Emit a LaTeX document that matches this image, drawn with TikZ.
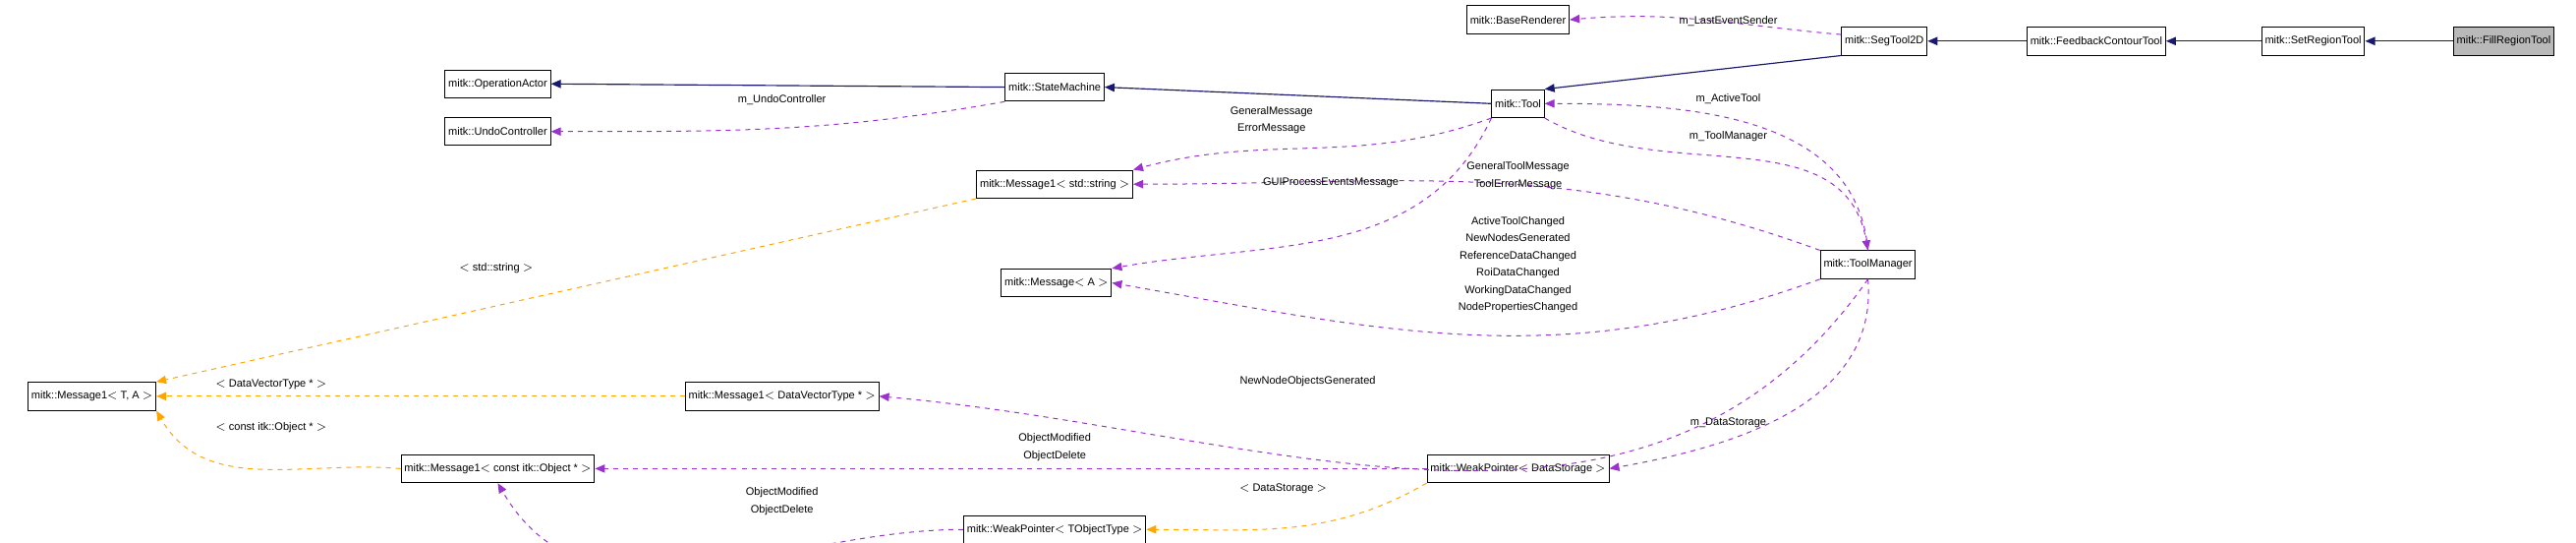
\documentclass[tikz,border=0pt]{standalone}
\usepackage{fontspec}
\setmainfont{Liberation Sans}
\usetikzlibrary{arrows.meta}
\definecolor{navy}{HTML}{191970}
\definecolor{orchid}{HTML}{9A32CD}
\definecolor{orangeedge}{HTML}{FFA500}
\tikzset{
  cls/.style={draw=black, line width=0.6pt, fill=white, minimum height=17pt, inner sep=2pt, font=\fontsize{6.6}{8}\selectfont},
  lbl/.style={font=\fontsize{6.6}{10.5}\selectfont, align=center, inner sep=0pt},
  inherit/.style={navy, line width=0.7pt, -{Triangle[length=6pt,width=5pt]}},
  usage/.style={orchid, dashed, line width=0.6pt, -{Triangle[length=6pt,width=5pt]}},
  templ/.style={orangeedge, dashed, line width=0.6pt, -{Triangle[length=6pt,width=5pt]}}
}
\begin{document}
\begin{tikzpicture}[x=1pt,y=-1pt]
\useasboundingbox (0,0) rectangle (1568,330);
% classes
\node [cls, fill=gray!55] (fill) at (1524,25) {mitk::FillRegionTool};
\node [cls] (setreg) at (1408,25) {mitk::SetRegionTool};
\node [cls] (feedback) at (1276,25) {mitk::FeedbackContourTool};
\node [cls] (seg) at (1147,25) {mitk::SegTool2D};
\node [cls] (base) at (924,12) {mitk::BaseRenderer};
\node [cls] (tool) at (924,63) {mitk::Tool};
\node [cls] (sm) at (642,53) {mitk::StateMachine};
\node [cls] (opactor) at (303,51) {mitk::OperationActor};
\node [cls] (undo) at (303,80) {mitk::UndoController};
\node [cls] (msgstr) at (642,112) {mitk::Message1$<$ std::string $>$};
\node [cls] (msga) at (643,172) {mitk::Message$<$ A $>$};
\node [cls] (toolman) at (1137,161) {mitk::ToolManager};
\node [cls] (msgta) at (56,241) {mitk::Message1$<$ T, A $>$};
\node [cls] (msgdv) at (476,241) {mitk::Message1$<$ DataVectorType * $>$};
\node [cls] (msgobj) at (303,285) {mitk::Message1$<$ const itk::Object * $>$};
\node [cls] (wpds) at (924,285) {mitk::WeakPointer$<$ DataStorage $>$};
\node [cls] (wpto) at (642,322) {mitk::WeakPointer$<$ TObjectType $>$};
% inheritance
\draw [inherit] (fill) -- (setreg);
\draw [inherit] (setreg) -- (feedback);
\draw [inherit] (feedback) -- (seg);
\draw [inherit] (seg.south west) -- (tool.north east);
\draw [inherit] (tool.west) -- (sm.east);
\draw [inherit] (sm.west) -- (opactor.east);
% usage
\draw [usage] (seg.west) ++(0,-4) coordinate (s1) (s1) to[out=175,in=5] (base.east);
\draw [usage] (sm.south west) to[out=190,in=0] (undo.east);
\draw [usage] (tool.south west) to[out=200,in=15] (msgstr.north east);
\draw [usage] (tool.south west) to[out=245,in=10] (msga.north east);
\draw [usage] (toolman.north west) to[out=160,in=0] (msgstr.east);
\draw [usage] (toolman.south west) to[out=200,in=-10] (msga.east);
\draw [usage] (toolman.south) to[out=235,in=-5] (msgdv.east);
\draw [usage] (tool.south east) to[out=-30,in=100] (toolman.north);
\draw [usage] (toolman.north) to[out=95,in=0] (tool.east);
\draw [usage] (toolman.south) to[out=-85,in=10] (wpds.east);
\draw [usage] (wpds.west) -- (msgobj.east);
\draw [usage] (wpto.west) to[out=180,in=-60] (msgobj.south);
% templates
\draw [templ] (msgstr.south west) -- (msgta.north east);
\draw [templ] (msgdv.west) -- (msgta.east);
\draw [templ] (msgobj.west) to[out=175,in=-60] (msgta.south east);
\draw [templ] (wpds.south west) to[out=-150,in=0] (wpto.east);
% labels
\node [lbl] (lsender) at (1052,13) {m\_LastEventSender};
\node [lbl] (lundo) at (476,61) {m\_UndoController};
\node [lbl] (lgenmsg) at (774,73) {GeneralMessage\\ErrorMessage};
\node [lbl] (lgui) at (810,111) {GUIProcessEventsMessage};
\node [lbl] (lactive) at (1052,60) {m\_ActiveTool};
\node [lbl] (ltoolman) at (1052,83) {m\_ToolManager};
\node [lbl] (lgentool) at (924,107) {GeneralToolMessage\\ToolErrorMessage};
\node [lbl] (lchanged) at (924,161) {ActiveToolChanged\\NewNodesGenerated\\ReferenceDataChanged\\RoiDataChanged\\WorkingDataChanged\\NodePropertiesChanged};
\node [lbl] (lnewnode) at (796,232) {NewNodeObjectsGenerated};
\node [lbl] (lds) at (1052,257) {m\_DataStorage};
\node [lbl] (lstr) at (302,163) {$<$ std::string $>$};
\node [lbl] (ldv) at (165,234) {$<$ DataVectorType * $>$};
\node [lbl] (lobj) at (165,260) {$<$ const itk::Object * $>$};
\node [lbl] (lobjmod) at (642,272) {ObjectModified\\ObjectDelete};
\node [lbl] (lobjmod2) at (476,305) {ObjectModified\\ObjectDelete};
\node [lbl] (ldstor) at (781,297) {$<$ DataStorage $>$};
\end{tikzpicture}
\end{document}
